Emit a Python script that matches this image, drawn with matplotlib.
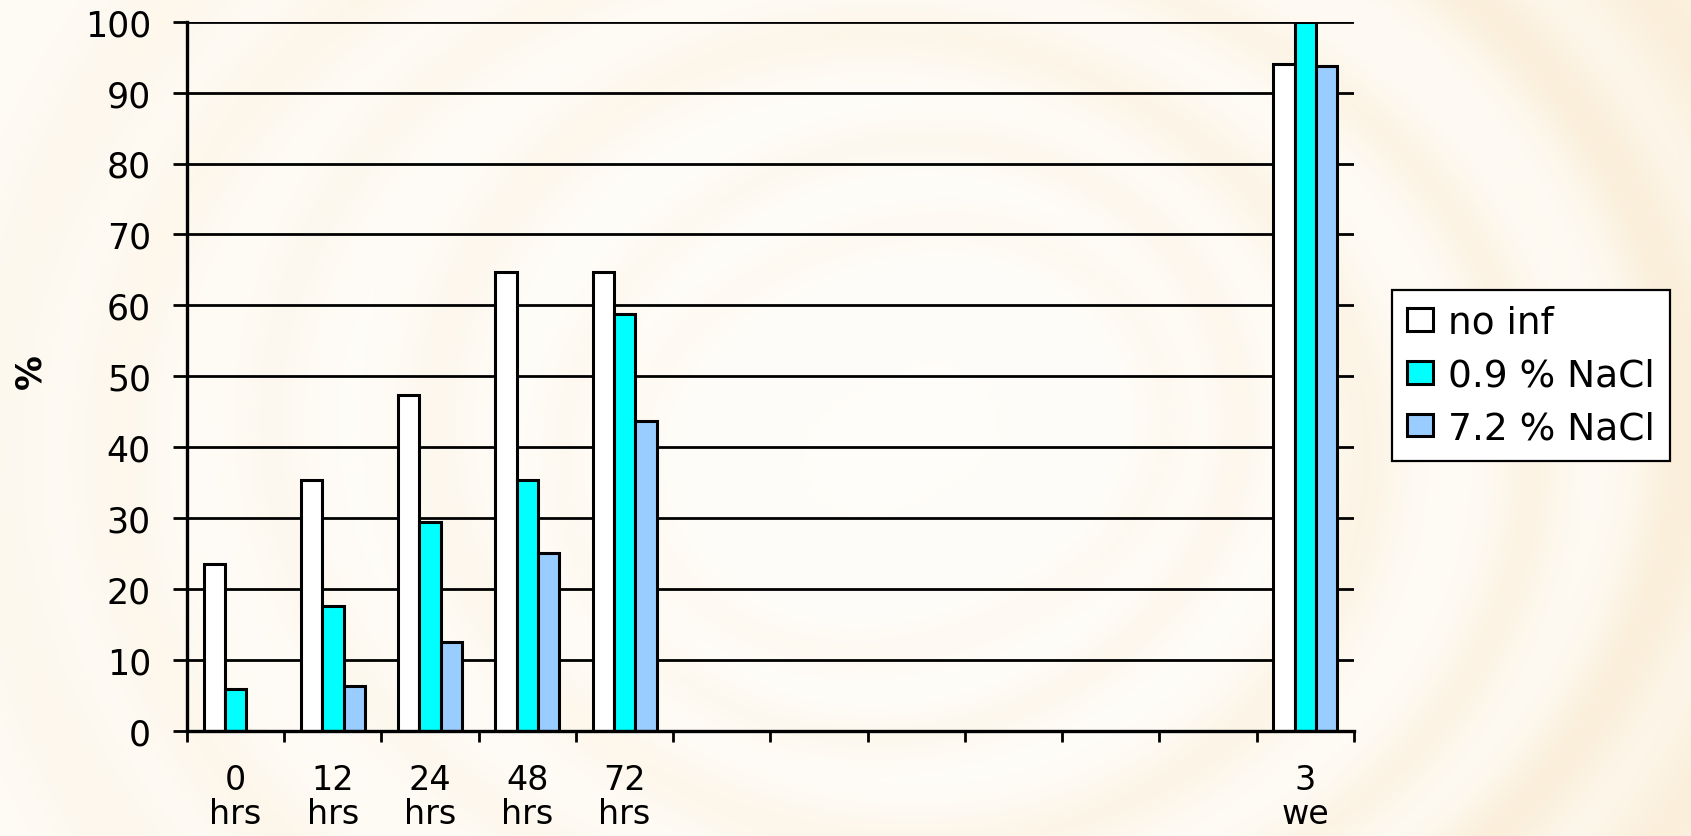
import numpy as np
import matplotlib
matplotlib.use("Agg")
import matplotlib.pyplot as plt

# ---- data -------------------------------------------------------------
categories = ["0\nhrs", "12\nhrs", "24\nhrs", "48\nhrs", "72\nhrs",
              "", "", "", "", "", "", "3\nwe"]
no_inf   = [23.5, 35.3, 47.3, 64.7, 64.7, None, None, None, None, None, None, 94.1]
nacl_09  = [5.9, 17.6, 29.4, 35.3, 58.8, None, None, None, None, None, None, 100.0]
nacl_72  = [0.0, 6.25, 12.5, 25.0, 43.75, None, None, None, None, None, None, 93.75]
series_names = ["no inf", "0.9 % NaCl", "7.2 % NaCl"]
series_colors = ["#FFFFFF", "#00FFFF", "#99CCFF"]
yticks = list(range(0, 101, 10))

plt.rcParams["font.family"] = ["DejaVu Sans"]

W, H = 1691, 837
fig = plt.figure(figsize=(W / 100, H / 100), dpi=100)

# ---- soft cream swirl backdrop -----------------------------------------
yy, xx = np.mgrid[0:H, 0:W].astype(float)
cx, cy = 900.0, 440.0
r = np.sqrt((xx - cx) ** 2 + ((yy - cy) / 0.82) ** 2)
ang = np.arctan2(yy - cy, xx - cx)
tone = np.zeros_like(r)
for rad, wid, amp in [(260, 30, 0.10), (350, 28, 0.14), (480, 40, 0.20),
                      (620, 35, 0.18), (770, 45, 0.26), (920, 60, 0.24)]:
    wob = rad + 18 * np.sin(ang * 2 + rad / 90.0)
    tone += amp * np.exp(-((r - wob) / wid) ** 2)
tone += 0.10 * np.clip((r - 250) / 700, 0, 1)
tone *= np.clip(0.35 + 0.75 * (xx / W), 0, 1)
tone = np.clip(tone, 0, 1)
base = np.array([255, 253, 249]) / 255.0
peach = np.array([243, 212, 160]) / 255.0
img = base[None, None, :] * (1 - tone[..., None]) + peach[None, None, :] * tone[..., None]
bg = fig.add_axes([0, 0, 1, 1], zorder=0)
bg.imshow(img, aspect="auto", extent=(0, W, H, 0), interpolation="bilinear")
bg.axis("off")

# ---- bar chart ---------------------------------------------------------
ax = fig.add_axes([187 / W, 1 - 731.7 / H, (1354 - 187) / W, (731.7 - 22.7) / H], zorder=1)
ax.patch.set_alpha(0)

x = np.arange(len(categories))
width = 0.22
handles = []
for k, (vals, col) in enumerate(zip([no_inf, nacl_09, nacl_72], series_colors)):
    xs = [xi + (k - 1) * width for xi, v in zip(x, vals) if v is not None]
    hs = [v for v in vals if v is not None]
    bars = ax.bar(xs, hs, width=width, color=col, edgecolor="black",
                  linewidth=2.2, zorder=3, label=series_names[k])
    handles.append(bars)

ax.set_xlim(-0.5, len(categories) - 0.5)
ax.set_ylim(0, 100)
ax.set_yticks(yticks)
ax.yaxis.grid(True, color="black", linewidth=2)
ax.set_axisbelow(True)

for s in ["top", "right"]:
    ax.spines[s].set_visible(False)
for s in ["left", "bottom"]:
    ax.spines[s].set_linewidth(2.4)
    ax.spines[s].set_color("black")
    ax.spines[s].set_zorder(4)

ax.tick_params(axis="y", length=10, width=2, direction="out", pad=16, labelsize=25)
ax.set_xticks(x)
ax.set_xticklabels(categories)
ax.set_xticks(np.arange(-0.5, len(categories), 1), minor=True)
ax.tick_params(axis="x", which="major", length=0, pad=23, labelsize=24)
ax.tick_params(axis="x", which="minor", length=8, width=2, direction="out")
for lbl in ax.get_xticklabels():
    lbl.set_linespacing(1.05)

fig.text(30 / W, 1 - 372 / H, "%", rotation=90, fontsize=25, fontweight="bold",
         ha="center", va="center")

leg = ax.legend(handles=handles, labels=series_names, loc="center left",
                bbox_to_anchor=(1392 / W, 1 - 376.5 / H), bbox_transform=fig.transFigure,
                frameon=True, fancybox=False, edgecolor="black", framealpha=1,
                facecolor="white", fontsize=27, handlelength=0.68, handleheight=0.55,
                handletextpad=0.42, labelspacing=0.45, borderpad=0.4, borderaxespad=0)
leg.get_frame().set_linewidth(1.6)

fig.savefig("out.png", dpi=100)
